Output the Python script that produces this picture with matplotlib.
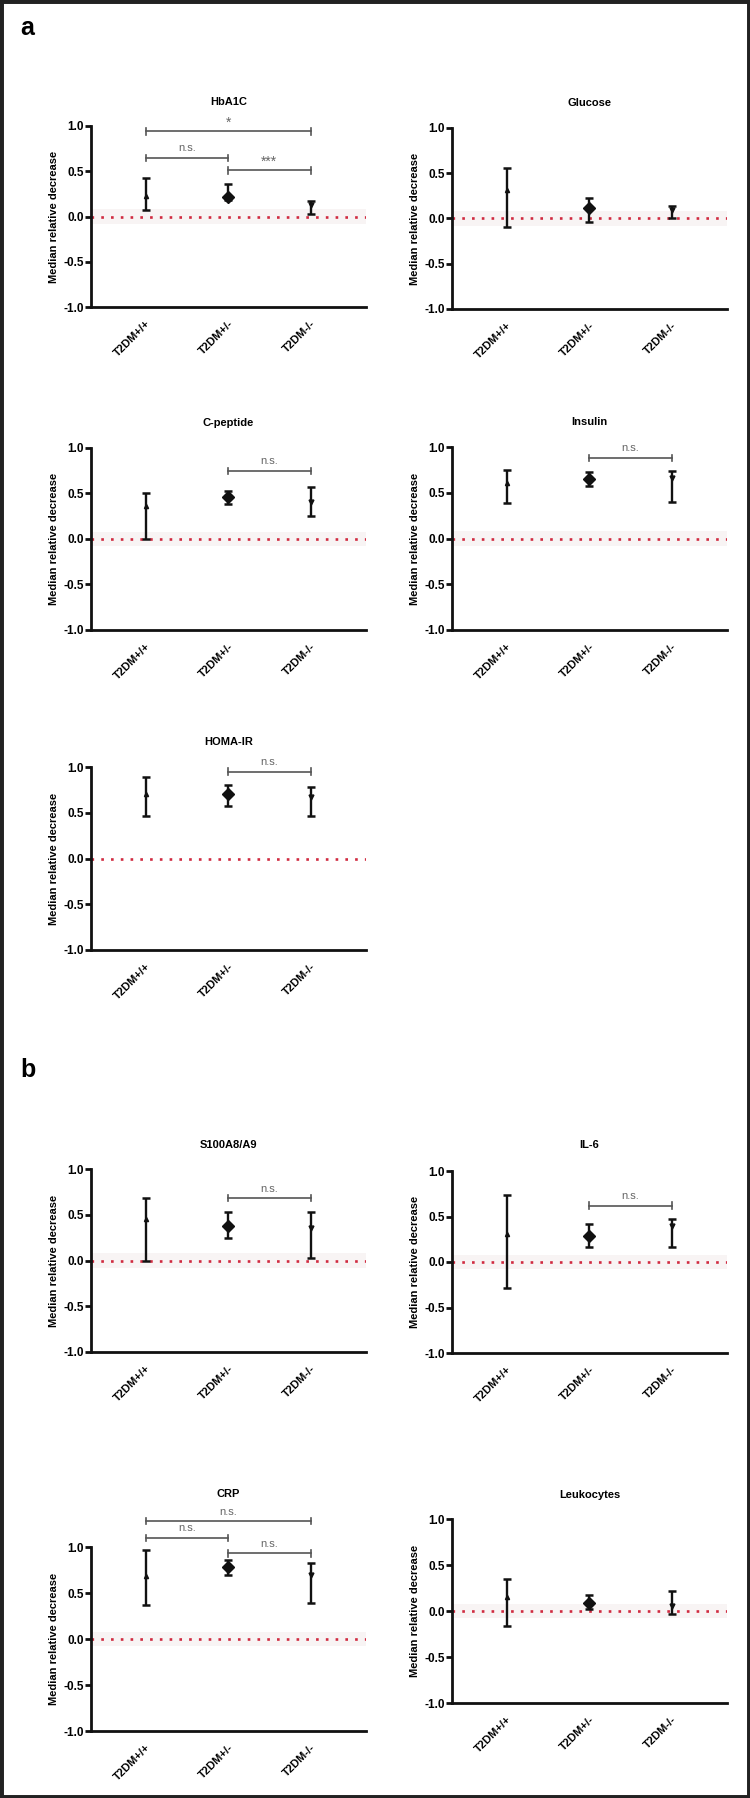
import matplotlib
matplotlib.use("Agg")
import matplotlib.pyplot as plt
from matplotlib.patches import Rectangle

plt.rcParams['font.family'] = ['Liberation Sans', 'DejaVu Sans']

groups = ["T2DM+/+", "T2DM+/-", "T2DM-/-"]

# median, lower, upper per group
hba1c_med = [0.23, 0.21, 0.13]
hba1c_lo = [0.07, 0.18, 0.03]
hba1c_hi = [0.42, 0.36, 0.17]

glucose_med = [0.32, 0.12, 0.09]
glucose_lo = [-0.09, -0.04, 0.00]
glucose_hi = [0.56, 0.23, 0.14]

cpep_med = [0.36, 0.46, 0.41]
cpep_lo = [0.00, 0.38, 0.25]
cpep_hi = [0.51, 0.53, 0.57]

insulin_med = [0.61, 0.65, 0.66]
insulin_lo = [0.39, 0.57, 0.40]
insulin_hi = [0.75, 0.73, 0.74]

homa_med = [0.71, 0.70, 0.67]
homa_lo = [0.46, 0.57, 0.46]
homa_hi = [0.89, 0.80, 0.78]

s100_med = [0.45, 0.38, 0.36]
s100_lo = [0.00, 0.25, 0.03]
s100_hi = [0.68, 0.53, 0.53]

il6_med = [0.31, 0.29, 0.40]
il6_lo = [-0.29, 0.17, 0.17]
il6_hi = [0.74, 0.42, 0.47]

crp_med = [0.68, 0.78, 0.70]
crp_lo = [0.37, 0.70, 0.39]
crp_hi = [0.97, 0.86, 0.83]

leuko_med = [0.15, 0.09, 0.05]
leuko_lo = [-0.16, 0.02, -0.03]
leuko_hi = [0.35, 0.17, 0.22]

# significance brackets: (group i, group j, y, label)
hba1c_sig = [(0, 2, 0.94, "*"), (0, 1, 0.65, "n.s."), (1, 2, 0.51, "***")]
cpep_sig = [(1, 2, 0.75, "n.s.")]
insulin_sig = [(1, 2, 0.88, "n.s.")]
homa_sig = [(1, 2, 0.95, "n.s.")]
s100_sig = [(1, 2, 0.68, "n.s.")]
il6_sig = [(1, 2, 0.62, "n.s.")]
crp_sig = [(0, 2, 1.28, "n.s."), (0, 1, 1.10, "n.s."), (1, 2, 0.93, "n.s.")]

W, H = 750, 1798
fig = plt.figure(figsize=(W / 100, H / 100), dpi=100)
fig.patch.set_facecolor('white')

LEFT = (91, 366)
RIGHT = (452, 727)

panels = [
    ("HbA1C", LEFT, 126, 307, hba1c_med, hba1c_lo, hba1c_hi, hba1c_sig, 102, True),
    ("Glucose", RIGHT, 128, 309, glucose_med, glucose_lo, glucose_hi, [], 103, True),
    ("C-peptide", LEFT, 448, 630, cpep_med, cpep_lo, cpep_hi, cpep_sig, 423, True),
    ("Insulin", RIGHT, 447, 630, insulin_med, insulin_lo, insulin_hi, insulin_sig, 422, True),
    ("HOMA-IR", LEFT, 767, 950, homa_med, homa_lo, homa_hi, homa_sig, 742, False),
    ("S100A8/A9", LEFT, 1169, 1352, s100_med, s100_lo, s100_hi, s100_sig, 1145, True),
    ("IL-6", RIGHT, 1171, 1353, il6_med, il6_lo, il6_hi, il6_sig, 1145, True),
    ("CRP", LEFT, 1547, 1731, crp_med, crp_lo, crp_hi, crp_sig, 1494, True),
    ("Leukocytes", RIGHT, 1519, 1703, leuko_med, leuko_lo, leuko_hi, [], 1495, True),
]

markers = ['^', 'D', 'v']
msizes = [3, 6.5, 3.5]

for title, (xl, xr), top, bot, med, lo, hi, sig, ty, band in panels:
    ax = fig.add_axes([xl / W, 1 - bot / H, (xr - xl) / W, (bot - top) / H])
    ax.set_xlim(-0.66, 2.67)
    ax.set_ylim(-1.0, 1.0)
    for s in ['top', 'right']:
        ax.spines[s].set_visible(False)
    for s in ['left', 'bottom']:
        ax.spines[s].set_linewidth(2.0)
        ax.spines[s].set_color('#111111')
    if band:
        ax.axhspan(-0.08, 0.08, color='#f8f4f4', zorder=0, lw=0)
    ax.axhline(0, color='#d02a40', lw=1.9, linestyle=(0, (1, 2.7)), zorder=1)
    for i in range(3):
        ax.errorbar([i], [med[i]], yerr=[[med[i] - lo[i]], [hi[i] - med[i]]],
                    fmt=markers[i], ms=msizes[i], color='#111111', ecolor='#111111',
                    elinewidth=1.7, capsize=2.8, capthick=1.8, zorder=3)
    for i, j, y, lab in sig:
        ax.plot([i, j], [y, y], color='#555555', lw=1.2, clip_on=False, zorder=2)
        for xx in (i, j):
            ax.plot([xx, xx], [y - 0.035, y + 0.035], color='#555555', lw=1.2,
                    clip_on=False, zorder=2)
        fs = 8 if lab == "n.s." else 10
        off = 0.05 if lab == "n.s." else 0.02
        ax.text((i + j) / 2, y + off, lab, ha='center', va='bottom', fontsize=fs,
                color='#666666', clip_on=False)
    ax.set_yticks([-1.0, -0.5, 0.0, 0.5, 1.0])
    ax.set_yticklabels(["-1.0", "-0.5", "0.0", "0.5", "1.0"], fontsize=8.5,
                       fontweight='bold')
    ax.tick_params(axis='y', length=4, width=2, pad=1, color='#111111')
    ax.set_xticks(range(3))
    ax.set_xticklabels(groups, rotation=45, ha='right', va='top',
                       rotation_mode='anchor', fontsize=8, fontweight='bold')
    ax.tick_params(axis='x', length=0, pad=8)
    ax.set_ylabel("Median relative decrease", fontsize=8, fontweight='bold')
    ax.yaxis.set_label_coords(-0.115, 0.5)
    fig.text((xl + xr) / 2 / W, 1 - ty / H, title, ha='center', va='center',
             fontsize=8, fontweight='bold')

fig.text(20 / W, 1 - 35 / H, "a", fontsize=18, fontweight='bold', va='baseline')
fig.text(20 / W, 1 - 1077 / H, "b", fontsize=18, fontweight='bold', va='baseline')

fig.patches.append(Rectangle((0, 0), 1, 1, transform=fig.transFigure, fill=False,
                             edgecolor='#222222', lw=5, zorder=10))

fig.savefig("out.png", dpi=100)
